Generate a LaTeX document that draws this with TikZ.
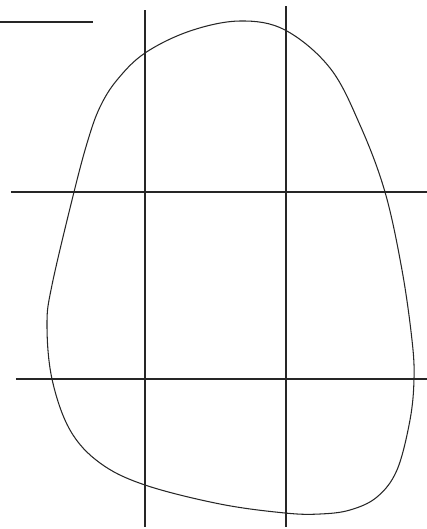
\documentclass[tikz,border=0pt]{standalone}
\usepackage{tikz}
\tikzset{
  rejilla/.style={
    line width=.6pt,
    black!85
  },
  contorno/.style={
    line width=.6pt,
    black!85
  },
  marca/.style={
    line width=1.3pt,
    black!85
  }
}

\begin{document}
\begin{tikzpicture}[x=0.02cm,y=-0.02cm]
\useasboundingbox (0,0) rectangle (427,529);
\coordinate (m1) at (0,22);
\coordinate (m2) at (93,22);
\coordinate (v1a) at (145,10);
\coordinate (v1b) at (145,527);
\coordinate (v2a) at (286,6);
\coordinate (v2b) at (286,527);
\coordinate (h1a) at (11,192);
\coordinate (h1b) at (427,192);
\coordinate (h2a) at (16,379);
\coordinate (h2b) at (427,379);
\draw[marca] (m1) -- (m2);
\draw[rejilla] (v1a) -- (v1b);
\draw[rejilla] (v2a) -- (v2b);
\draw[rejilla] (h1a) -- (h1b);
\draw[rejilla] (h2a) -- (h2b);
% contorno de la region
\draw[contorno] plot[smooth cycle,tension=.6] coordinates {
  (240,21) (285,30) (330,68) (360,125) (385,192) (402,270) (412,340)
  (414,379) (410,420) (397,470) (377,497) (350,510) (320,514) (285,513)
  (220,504) (145,485) (100,463) (70,430) (52,379) (47,325) (52,285)
  (74,192) (88,140) (100,107) (117,80) (145,53) (190,31)};
\end{tikzpicture}
\end{document}
